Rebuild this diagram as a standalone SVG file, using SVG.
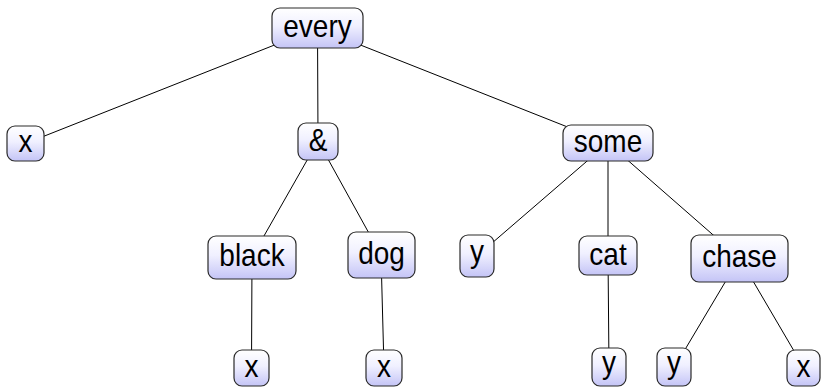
<svg xmlns="http://www.w3.org/2000/svg" width="821" height="388" viewBox="0 0 821 388">
<defs>
<linearGradient id="g" x1="0" y1="0" x2="0" y2="1">
<stop offset="0" stop-color="#ffffff"/>
<stop offset="0.45" stop-color="#f0f0ff"/>
<stop offset="1" stop-color="#c4c4f6"/>
</linearGradient>
<style>
.b{fill:url(#g);stroke:#2a2a2a;stroke-width:1.2}
.t{font-family:"Liberation Sans",Arial,sans-serif;font-size:28px;fill:#000;text-anchor:middle}
.e{stroke:#000;stroke-width:1;fill:none}
</style>
</defs>
<rect width="821" height="388" fill="#fff"/>
<g id="edges">
<line class="e" x1="317.5" y1="28" x2="25.5" y2="143.5"/>
<line class="e" x1="317.5" y1="28" x2="318" y2="141"/>
<line class="e" x1="317.5" y1="28" x2="608" y2="143"/>
<line class="e" x1="318" y1="141" x2="252" y2="257"/>
<line class="e" x1="318" y1="141" x2="381" y2="255"/>
<line class="e" x1="608" y1="143" x2="477" y2="256"/>
<line class="e" x1="608" y1="143" x2="608" y2="255"/>
<line class="e" x1="608" y1="143" x2="739.5" y2="258"/>
<line class="e" x1="252" y1="257" x2="251.5" y2="368"/>
<line class="e" x1="381" y1="255" x2="384" y2="368"/>
<line class="e" x1="608" y1="255" x2="609" y2="368"/>
<line class="e" x1="739.5" y1="258" x2="674" y2="368"/>
<line class="e" x1="739.5" y1="258" x2="804" y2="368"/>
</g>
<g id="n-every"><rect class="b" x="272" y="8" width="91" height="40" rx="8"/><text class="t" transform="translate(317.5,36.5) scale(1,1.15)">every</text></g>
<g id="n-x1"><rect class="b" x="7" y="126" width="37" height="35" rx="8"/><text class="t" transform="translate(25.5,152) scale(1,1.15)">x</text></g>
<g id="n-and"><rect class="b" x="298" y="123" width="40" height="37" rx="8"/><text class="t" transform="translate(318,151) scale(1,1.15)">&amp;</text></g>
<g id="n-some"><rect class="b" x="563" y="125" width="90" height="36" rx="8"/><text class="t" transform="translate(608,151.5) scale(1,1.15)">some</text></g>
<g id="n-black"><rect class="b" x="208" y="236" width="88" height="43" rx="8"/><text class="t" transform="translate(252,265.5) scale(1,1.15)">black</text></g>
<g id="n-dog"><rect class="b" x="348" y="232" width="67" height="46" rx="8"/><text class="t" transform="translate(381.5,263.5) scale(1,1.15)">dog</text></g>
<g id="n-y1"><rect class="b" x="460" y="235" width="34" height="42" rx="8"/><text class="t" transform="translate(477,261.5) scale(1,1.15)">y</text></g>
<g id="n-cat"><rect class="b" x="579" y="236" width="58" height="39" rx="8"/><text class="t" transform="translate(608,264.5) scale(1,1.15)">cat</text></g>
<g id="n-chase"><rect class="b" x="691" y="235" width="97" height="47" rx="8"/><text class="t" transform="translate(739.5,267) scale(1,1.15)">chase</text></g>
<g id="n-x2"><rect class="b" x="234" y="350" width="35" height="36" rx="8"/><text class="t" transform="translate(251.5,377) scale(1,1.15)">x</text></g>
<g id="n-x3"><rect class="b" x="366" y="350" width="36" height="36" rx="8"/><text class="t" transform="translate(384,377) scale(1,1.15)">x</text></g>
<g id="n-y2"><rect class="b" x="592" y="348" width="34" height="38" rx="8"/><text class="t" transform="translate(609,372.5) scale(1,1.15)">y</text></g>
<g id="n-y3"><rect class="b" x="657" y="348" width="34" height="38" rx="8"/><text class="t" transform="translate(674,372.5) scale(1,1.15)">y</text></g>
<g id="n-x4"><rect class="b" x="787" y="350" width="33" height="36" rx="8"/><text class="t" transform="translate(803.5,377) scale(1,1.15)">x</text></g>
</svg>
